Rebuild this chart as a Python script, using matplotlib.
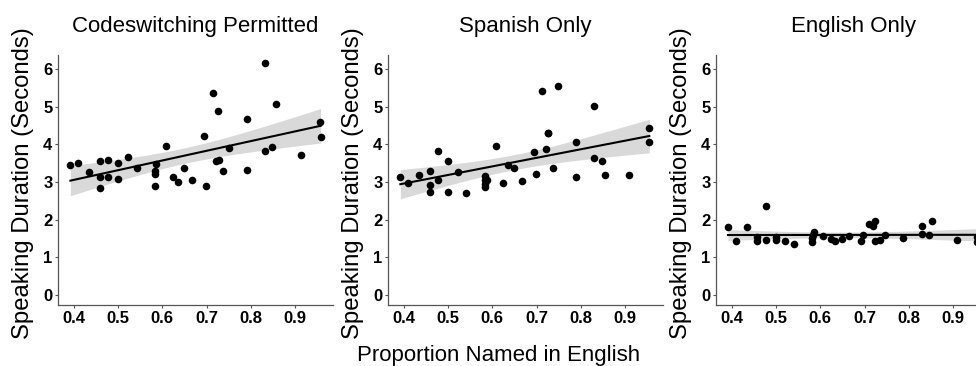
import numpy as np
import matplotlib
matplotlib.use("Agg")
import matplotlib.pyplot as plt

plt.rcParams['font.family'] = ['Liberation Sans', 'DejaVu Sans']

titles = ["Codeswitching Permitted", "Spanish Only", "English Only"]
y_label = "Speaking Duration (Seconds)"
x_label = "Proportion Named in English"
x_ticks = [0.4, 0.5, 0.6, 0.7, 0.8, 0.9]
y_ticks = [0, 1, 2, 3, 4, 5, 6]

cs_x = [0.392, 0.409, 0.435, 0.458, 0.458, 0.458, 0.477, 0.478, 0.500, 0.500,
        0.522, 0.542, 0.583, 0.583, 0.583, 0.586, 0.608, 0.625, 0.636, 0.650,
        0.666, 0.695, 0.699, 0.714, 0.722, 0.727, 0.728, 0.738, 0.750, 0.791,
        0.791, 0.833, 0.833, 0.849, 0.857, 0.913, 0.956, 0.958]
cs_y = [3.45, 3.51, 3.25, 3.56, 3.12, 2.83, 3.58, 3.13, 3.49, 3.08,
        3.65, 3.38, 2.88, 3.21, 3.30, 3.47, 3.96, 3.12, 2.99, 3.37,
        3.04, 4.22, 2.88, 5.37, 3.56, 4.88, 3.58, 3.29, 3.91, 4.66,
        3.32, 6.15, 3.82, 3.92, 5.08, 3.71, 4.59, 4.18]

sp_x = [0.392, 0.410, 0.435, 0.459, 0.459, 0.459, 0.477, 0.478, 0.500, 0.500,
        0.522, 0.541, 0.583, 0.583, 0.583, 0.583, 0.588, 0.608, 0.624, 0.636,
        0.649, 0.666, 0.694, 0.699, 0.713, 0.721, 0.725, 0.727, 0.738, 0.748,
        0.790, 0.790, 0.831, 0.831, 0.848, 0.855, 0.910, 0.955, 0.954]
sp_y = [3.12, 2.97, 3.19, 3.30, 2.93, 2.72, 3.81, 3.04, 3.55, 2.73,
        3.27, 2.70, 3.16, 3.05, 2.94, 2.86, 3.06, 3.96, 2.98, 3.44,
        3.38, 3.02, 3.80, 3.22, 5.42, 3.88, 4.29, 4.31, 3.38, 5.55,
        4.07, 3.12, 5.02, 3.64, 3.56, 3.18, 3.18, 4.42, 4.06]

en_x = [0.391, 0.409, 0.434, 0.457, 0.457, 0.476, 0.478, 0.499, 0.499, 0.521,
        0.541, 0.582, 0.582, 0.586, 0.584, 0.607, 0.624, 0.634, 0.648, 0.665,
        0.693, 0.697, 0.710, 0.720, 0.723, 0.723, 0.736, 0.747, 0.788, 0.829,
        0.829, 0.846, 0.853, 0.909, 0.954, 0.954]
en_y = [1.80, 1.42, 1.81, 1.53, 1.42, 2.36, 1.45, 1.53, 1.46, 1.43,
        1.36, 1.50, 1.40, 1.68, 1.59, 1.55, 1.47, 1.42, 1.47, 1.55,
        1.42, 1.60, 1.89, 1.83, 1.96, 1.43, 1.46, 1.58, 1.50, 1.84,
        1.61, 1.59, 1.97, 1.46, 1.54, 1.41]

datasets = [(cs_x, cs_y), (sp_x, sp_y), (en_x, en_y)]
T95 = 2.03

W, H = 976, 366
fig = plt.figure(figsize=(W / 100, H / 100), dpi=100)
lefts = [58, 388, 716]
ax_w = 275
ax_bottom = 61
ax_h = 250

for i, (xs, ys) in enumerate(datasets):
    ax = fig.add_axes([lefts[i] / W, ax_bottom / H, ax_w / W, ax_h / H])
    x = np.array(xs)
    y = np.array(ys)
    n = len(x)
    b, a = np.polyfit(x, y, 1)
    xx = np.linspace(x.min(), x.max(), 100)
    yy = a + b * xx
    resid = y - (a + b * x)
    s = np.sqrt(np.sum(resid ** 2) / (n - 2))
    sxx = np.sum((x - x.mean()) ** 2)
    se = s * np.sqrt(1.0 / n + (xx - x.mean()) ** 2 / sxx)
    ax.fill_between(xx, yy - T95 * se, yy + T95 * se, color='#d9d9d9', lw=0, zorder=1)
    ax.plot(xx, yy, color='black', lw=1.5, zorder=2)
    ax.scatter(x, y, s=30, color='black', zorder=3, linewidths=0)

    ax.set_xlim(0.364, 0.986)
    ax.set_ylim(-0.27, 6.37)
    ax.set_xticks(x_ticks)
    ax.set_xticklabels([f"{v:.1f}" for v in x_ticks], fontweight='bold', fontsize=12)
    ax.set_yticks(y_ticks)
    ax.set_yticklabels([str(v) for v in y_ticks], fontweight='bold', fontsize=12)
    ax.tick_params(length=2.5, width=0.8, color='#555555', pad=1.5)
    for sp in ['top', 'right']:
        ax.spines[sp].set_visible(False)
    for sp in ['left', 'bottom']:
        ax.spines[sp].set_color('#555555')
        ax.spines[sp].set_linewidth(0.9)
    ax.set_ylabel(y_label, fontsize=17.2)
    ax.yaxis.set_label_coords(-0.089, 0.486)
    ax.set_title(titles[i], fontsize=16, pad=16.5)

fig.text(499 / W, 1 - 356 / H, x_label, fontsize=16, ha='center', va='center')

fig.savefig("out.png", dpi=100)
